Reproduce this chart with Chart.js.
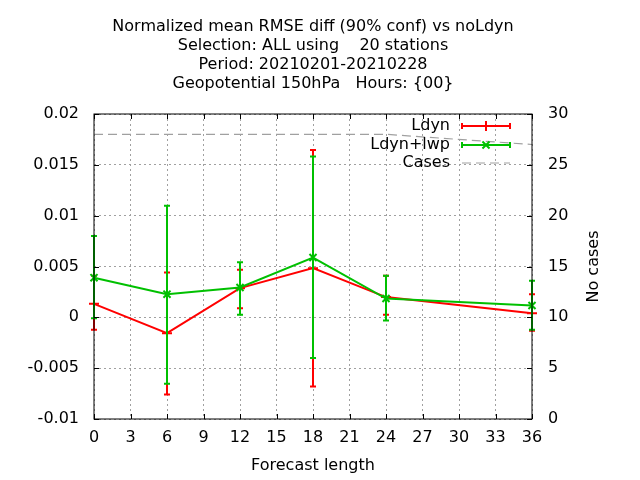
<!DOCTYPE html>
<html>
<head>
<meta charset="utf-8">
<script src="https://cdn.jsdelivr.net/npm/chart.js@4.4.0/dist/chart.umd.min.js"></script>
<style>
  html, body { margin: 0; padding: 0; background: #fff; }
</style>
</head>
<body>
<canvas id="chart" width="640" height="480"></canvas>
<script>
// values
var titleLines = [
  'Normalized mean RMSE diff (90% conf) vs noLdyn',
  'Selection: ALL using    20 stations',
  'Period: 20210201-20210228',
  'Geopotential 150hPa   Hours: {00}'
];
var xTitle = 'Forecast length';
var y2Title = 'No cases';
var leadTimes = [0, 6, 12, 18, 24, 36];

var ldyn   = [0.00133, -0.00156, 0.00287, 0.00484, 0.00199, 0.00041];
var ldynLo = [-0.00123, -0.0076, 0.0009, -0.0068, 0.00025, -0.00133];
var ldynHi = [0.0041, 0.0044, 0.00467, 0.01647, 0.0041, 0.00228];

var lwp   = [0.0039, 0.00228, 0.00293, 0.00588, 0.00185, 0.00116];
var lwpLo = [-0.0001, -0.00654, 0.00025, -0.0040, -0.00031, -0.00123];
var lwpHi = [0.0080, 0.01097, 0.00543, 0.01582, 0.0041, 0.00359];

var cases = [28, 28, 28, 28, 28, 27];

var RED = '#ff0000', GREEN = '#00c000', GREY = '#a0a0a0';
var FONT = 'DejaVu Sans';

Chart.defaults.font.family = FONT;
Chart.defaults.font.size = 16;
Chart.defaults.color = '#000';

function pts(ys) {
  return leadTimes.map(function (x, i) { return { x: x, y: ys[i] }; });
}

// error bars, drawn right after each line so the green ones sit on top
var errBars = {
  id: 'errBars',
  afterDatasetDraw: function (chart, args) {
    var ds = chart.data.datasets[args.index];
    if (!ds.lo) return;
    var ctx = chart.ctx, xs = chart.scales.x, ys = chart.scales.y;
    ctx.save();
    ctx.strokeStyle = ds.borderColor;
    ctx.lineWidth = 2;
    for (var i = 0; i < ds.lo.length; i++) {
      var px = xs.getPixelForValue(leadTimes[i]);
      var a = ys.getPixelForValue(ds.lo[i]);
      var b = ys.getPixelForValue(ds.hi[i]);
      ctx.beginPath();
      ctx.moveTo(px, a); ctx.lineTo(px, b);
      ctx.moveTo(px - 3, a); ctx.lineTo(px + 3, a);
      ctx.moveTo(px - 3, b); ctx.lineTo(px + 3, b);
      ctx.stroke();
    }
    ctx.restore();
  }
};

// gnuplot-like frame, inward ticks, titles and key
var decor = {
  id: 'decor',
  afterDraw: function (chart) {
    var ctx = chart.ctx, a = chart.chartArea;
    var xs = chart.scales.x, ys = chart.scales.y, y2 = chart.scales.y2;
    ctx.save();
    ctx.strokeStyle = '#000';
    ctx.lineWidth = 1;
    ctx.strokeRect(a.left, a.top, a.right - a.left, a.bottom - a.top);
    ctx.beginPath();
    xs.ticks.forEach(function (t) {
      var px = Math.round(xs.getPixelForValue(t.value)) + 0.5;
      ctx.moveTo(px, a.bottom); ctx.lineTo(px, a.bottom - 5);
      ctx.moveTo(px, a.top); ctx.lineTo(px, a.top + 5);
    });
    ys.ticks.forEach(function (t) {
      var py = Math.round(ys.getPixelForValue(t.value)) + 0.5;
      ctx.moveTo(a.left, py); ctx.lineTo(a.left + 5, py);
    });
    y2.ticks.forEach(function (t) {
      var py = Math.round(y2.getPixelForValue(t.value)) + 0.5;
      ctx.moveTo(a.right, py); ctx.lineTo(a.right - 5, py);
    });
    ctx.stroke();

    ctx.fillStyle = '#000';
    ctx.font = '16px "' + FONT + '"';
    ctx.textAlign = 'center';
    ctx.textBaseline = 'middle';
    var cx = (a.left + a.right) / 2;
    titleLines.forEach(function (s, i) {
      ctx.fillText(s, cx, 27 + i * 19);
    });
    ctx.fillText(xTitle, cx, 466);
    ctx.save();
    ctx.translate(594, (a.top + a.bottom) / 2);
    ctx.rotate(-Math.PI / 2);
    ctx.fillText(y2Title, 0, 0);
    ctx.restore();

    // key
    var rowY = [126, 145, 163];
    var x0 = 462, x1 = 510;
    chart.data.datasets.forEach(function (ds, i) {
      var y = rowY[i];
      ctx.textAlign = 'right';
      ctx.fillText(ds.label, 450, y);
      ctx.strokeStyle = ds.borderColor;
      ctx.lineWidth = ds.borderWidth;
      ctx.setLineDash(ds.borderDash || []);
      ctx.beginPath();
      ctx.moveTo(x0, y); ctx.lineTo(x1, y);
      ctx.stroke();
      ctx.setLineDash([]);
      if (ds.lo) {
        ctx.lineWidth = 2;
        ctx.beginPath();
        ctx.moveTo(x0, y - 3); ctx.lineTo(x0, y + 3);
        ctx.moveTo(x1, y - 3); ctx.lineTo(x1, y + 3);
        ctx.stroke();
        Chart.helpers.drawPoint(ctx, {
          pointStyle: ds.pointStyle, radius: ds.pointRadius,
          borderWidth: 2, rotation: 0
        }, (x0 + x1) / 2, y);
      }
    });
    ctx.restore();
  }
};

var gridOpts = { color: GREY, lineWidth: 1, drawTicks: false };

new Chart(document.getElementById('chart'), {
  type: 'line',
  data: {
    datasets: [
      {
        label: 'Ldyn', data: pts(ldyn), lo: ldynLo, hi: ldynHi,
        borderColor: RED, backgroundColor: RED, borderWidth: 2,
        pointStyle: 'cross', pointRadius: 5, pointBorderWidth: 2,
        yAxisID: 'y', order: 1, clip: false
      },
      {
        label: 'Ldyn+lwp', data: pts(lwp), lo: lwpLo, hi: lwpHi,
        borderColor: GREEN, backgroundColor: GREEN, borderWidth: 2,
        pointStyle: 'crossRot', pointRadius: 5, pointBorderWidth: 2,
        yAxisID: 'y', order: 0, clip: false
      },
      {
        label: 'Cases', data: pts(cases),
        borderColor: GREY, borderWidth: 1.2, borderDash: [9, 5],
        pointRadius: 0, yAxisID: 'y2', order: 2, clip: false
      }
    ]
  },
  options: {
    responsive: false,
    animation: false,
    devicePixelRatio: 1,
    layout: { padding: { top: 114, left: 0, right: 0, bottom: 0 } },
    plugins: { legend: { display: false }, title: { display: false }, tooltip: { enabled: false } },
    scales: {
      x: {
        type: 'linear', min: 0, max: 36,
        ticks: { stepSize: 3, padding: 9, maxRotation: 0, autoSkip: false },
        grid: gridOpts,
        border: { display: false, dash: [2, 3] },
        afterFit: function (s) { s.height = 61; }
      },
      y: {
        position: 'left', min: -0.01, max: 0.02,
        ticks: {
          stepSize: 0.005, padding: 15,
          callback: function (v) { return String(+v.toFixed(4)); }
        },
        grid: gridOpts,
        border: { display: false, dash: [2, 3] },
        afterFit: function (s) { s.width = 94; }
      },
      y2: {
        position: 'right', min: 0, max: 30,
        ticks: { stepSize: 5, padding: 16 },
        grid: { drawOnChartArea: false, drawTicks: false },
        border: { display: false },
        afterFit: function (s) { s.width = 108; }
      }
    }
  },
  plugins: [errBars, decor]
});
</script>
</body>
</html>
